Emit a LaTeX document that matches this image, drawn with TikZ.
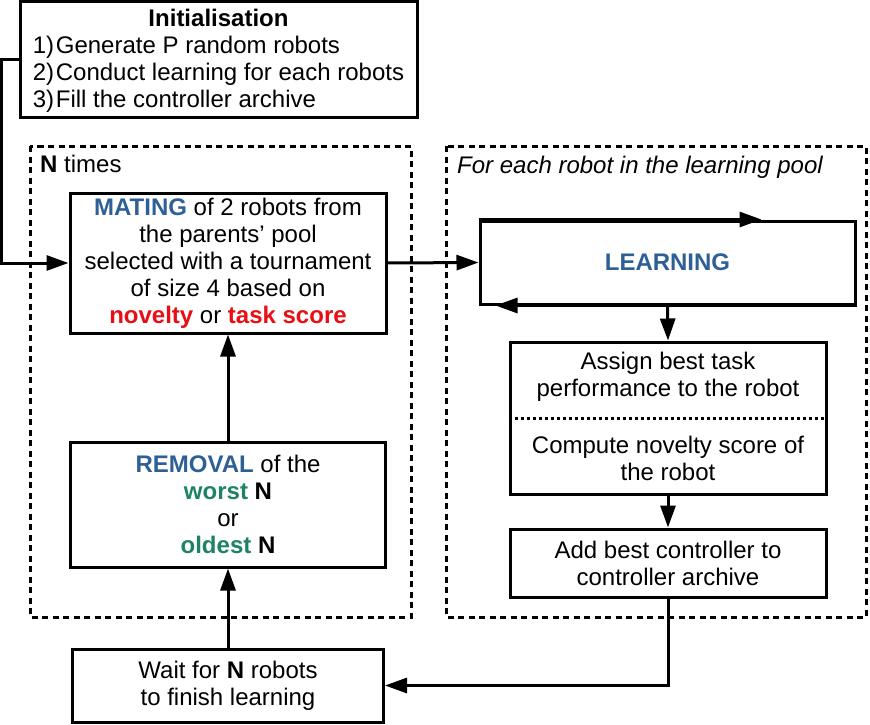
\documentclass[tikz,border=0pt]{standalone}
\usepackage{fontspec}
\setmainfont{Liberation Sans}
\usetikzlibrary{arrows.meta,calc}
\definecolor{cblue}{RGB}{46,96,150}
\definecolor{cred}{RGB}{232,14,20}
\definecolor{cgreen}{RGB}{30,130,100}
\begin{document}
\begin{tikzpicture}[x=1pt,y=-1pt,
  font=\fontsize{24}{27}\selectfont,
  box/.style={draw,line width=3pt,inner sep=0pt,align=center},
  txt/.style={inner sep=0pt,align=center},
  arr/.style={line width=3pt,-{Triangle[length=22pt,width=15pt]}},
  tip/.style={-{Triangle[length=22pt,width=15pt]}},
  dbox/.style={line width=3pt,dash pattern=on 6pt off 4.5pt},
  ]
\useasboundingbox (0,0) rectangle (870,725);
% dashed groups
\draw[dbox] (30,146) rectangle (411,617);
\draw[dbox] (446,146) rectangle (866,617);
\node[txt,anchor=base west] (ntimes) at (40,172) {\textbf{N} times};
\node[txt,anchor=base west] (foreach) at (457,173) {\itshape For each robot in the learning pool};
% nodes
\node[box,minimum width=397pt,minimum height=115pt] (init) at (218.5,59.5)
 {\raisebox{-2.5pt}[\height][\depth]{\begin{tabular}{@{}l@{}l@{}}\multicolumn{2}{c}{\textbf{Initialisation}}\\
 \makebox[23pt][l]{1)}&Generate P random robots\\
 \makebox[23pt][l]{2)}&Conduct learning for each robots\\
 \makebox[23pt][l]{3)}&Fill the controller archive\end{tabular}}};
\node[box,minimum width=316pt,minimum height=140pt] (mating) at (228,263)
 {\textbf{\color{cblue}MATING} of 2 robots from\\the parents’ pool\\selected with a tournament\\of size 4 based on\\\textbf{\color{cred}novelty} or \textbf{\color{cred}task score}};
\node[box,minimum width=315pt,minimum height=125pt] (removal) at (228,504.5)
 {\textbf{\color{cblue}REMOVAL} of the\\\textbf{\color{cgreen}worst} \textbf{N}\\or\\\textbf{\color{cgreen}oldest} \textbf{N}};
\node[box,minimum width=311pt,minimum height=73pt] (wait) at (228,685.5)
 {Wait for \textbf{N} robots\\to finish learning};
\node[box,minimum width=375pt,minimum height=83pt] (learn) at (667.5,262.5)
 {\textbf{\color{cblue}LEARNING}};
\node[box,minimum width=316pt,minimum height=152pt] (assign) at (668,418) {};
\node[txt] (assignA) at (668,377) {Assign best task\\performance to the robot};
\node[txt] (assignB) at (668,458) {Compute novelty score of\\the robot};
\draw[line width=3pt,dash pattern=on 3pt off 3pt] (assign.west) -- (assign.east);
\node[box,minimum width=316pt,minimum height=68pt] (add) at (668,563)
 {Add best controller to\\controller archive};
% learning loop arrowheads
\draw[line width=3pt,tip] (learn.north west) -- ($(learn.north west)+(283,0)$);
\draw[line width=3pt,tip] (learn.south east) -- ($(learn.south west)+(17,0)$);
% connectors
\draw[arr] (init.west) -- ++(-17,0) |- (mating.west);
\draw[arr] (mating.east) -- (learn.west);
\draw[arr] (learn.south) -- (assign.north);
\draw[arr] (assign.south) -- (add.north);
\draw[arr] (add.south) |- (wait.east);
\draw[arr] (wait.north) -- (removal.south);
\draw[arr] (removal.north) -- (mating.south);
\end{tikzpicture}
\end{document}
